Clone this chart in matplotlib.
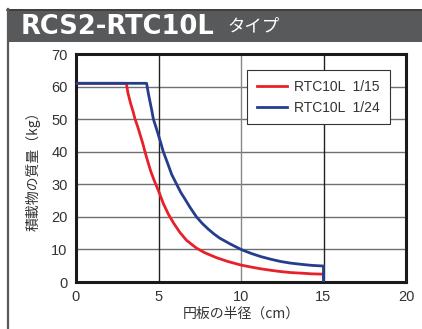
import matplotlib
matplotlib.use("Agg")
import matplotlib.pyplot as plt
from matplotlib.patches import Rectangle
from matplotlib.lines import Line2D

# Data
red_label = "RTC10L  1/15"
blue_label = "RTC10L  1/24"
red_x = [0, 3.05, 3.15, 3.3, 3.45, 3.58, 3.75, 3.9, 4.05, 4.18, 4.35, 4.53, 4.75, 5.0, 5.3,
         5.6, 5.9, 6.3, 6.7, 7.3, 7.8, 8.5, 9.2, 10.0, 10.6, 11.2, 11.8, 12.4, 13.0, 13.7,
         14.3, 15.0, 15.0]
red_y = [61, 61, 58, 55, 52.5, 50, 47.5, 45, 42.5, 40, 37, 34, 31, 28, 24,
         20.8, 18.2, 15.2, 12.8, 10.4, 9.0, 7.5, 6.3, 5.2, 4.6, 4.05, 3.6, 3.2, 2.9, 2.7,
         2.5, 2.4, 0]
blue_x = [0, 4.28, 4.38, 4.5, 4.6, 4.69, 4.85, 5.0, 5.15, 5.29, 5.55, 5.8, 5.95, 6.1, 6.35,
          6.6, 6.9, 7.3, 7.65, 8.0, 8.35, 8.7, 9.3, 10.0, 10.6, 11.2, 11.8, 12.4, 13.0,
          13.7, 14.3, 15.0, 15.0]
blue_y = [61, 61, 58, 55, 52.5, 50, 47.5, 45, 42.5, 40, 36.5, 33, 31.5, 30, 27.5,
          25.5, 23, 20, 18, 16.3, 14.8, 13.5, 11.8, 10, 8.8, 7.8, 7.0, 6.3, 5.8,
          5.4, 5.1, 4.9, 0]
x_ticks = [0, 5, 10, 15, 20]
y_ticks = [0, 10, 20, 30, 40, 50, 60, 70]
title_main = "RCS2-RTC10L"
title_sub = "タイプ"
x_label = "円板の半径（cm）"
y_label = "積載物の質量（kg）"

JP = ["Noto Sans CJK JP", "DejaVu Sans"]
NUM = ["Liberation Sans", "DejaVu Sans"]

W, H = 422, 329
fig = plt.figure(figsize=(W / 100, H / 100), dpi=100)
fig.patch.set_facecolor("white")

# title bar
fig.patches.append(Rectangle((7 / W, 1 - 42 / H), 1 - 7 / W, 33 / H,
                             transform=fig.transFigure, facecolor="#58595b",
                             edgecolor="none", zorder=0))
fig.lines.append(Line2D([7 / W, 1], [1 - 9.5 / H, 1 - 9.5 / H], transform=fig.transFigure,
                        color="#3a3a3a", lw=1.2))
fig.lines.append(Line2D([7.5 / W, 7.5 / W], [0, 1 - 9 / H], transform=fig.transFigure,
                        color="#58595b", lw=1.6))
fig.text(21 / W, 1 - 26.5 / H, title_main, color="white", fontsize=18.5, fontweight="bold",
         family=["DejaVu Sans"], va="center", ha="left")
fig.text(227 / W, 1 - 26 / H, title_sub, color="white", fontsize=12.5, family=JP,
         va="center", ha="left")

ax = fig.add_axes([76 / W, 1 - 282 / H, 330 / W, 228 / H])
ax.set_xlim(0, 20)
ax.set_ylim(0, 70)

for yv in y_ticks[1:-1]:
    ax.axhline(yv, color="#707070", lw=1.0, zorder=1)
for xv, c in zip(x_ticks[1:-1], ["#222222", "#888888", "#222222"]):
    ax.axvline(xv, color=c, lw=1.0, zorder=1)

ax.plot(red_x, red_y, color="#e8202a", lw=2.0, label=red_label, zorder=3)
ax.plot(blue_x, blue_y, color="#243d8d", lw=2.0, label=blue_label, zorder=4)

for s in ax.spines.values():
    s.set_linewidth(2.2)
    s.set_color("#1a1a1a")

ax.set_xticks(x_ticks)
ax.set_yticks(y_ticks)
ax.tick_params(length=0, pad=6, labelsize=10.5, labelcolor="#333333")
for lab in ax.get_xticklabels() + ax.get_yticklabels():
    lab.set_family(NUM)

ax.set_xlabel(x_label, fontsize=10, family=JP, color="#333333", labelpad=2)
ax.set_ylabel(y_label, fontsize=10, family=JP, color="#333333", labelpad=8)

leg = ax.legend(loc="upper left", bbox_to_anchor=((247 - 76) / 330, (282 - 70) / 228),
                frameon=True, fancybox=False, edgecolor="#333333", framealpha=1,
                prop={"family": NUM, "size": 10}, handlelength=2.2, handletextpad=0.5,
                borderpad=0.7, labelspacing=0.5, borderaxespad=0)
leg.get_frame().set_linewidth(0.8)
leg.set_zorder(5)
for t in leg.get_texts():
    t.set_color("#333333")

fig.savefig("out.png", dpi=100)
